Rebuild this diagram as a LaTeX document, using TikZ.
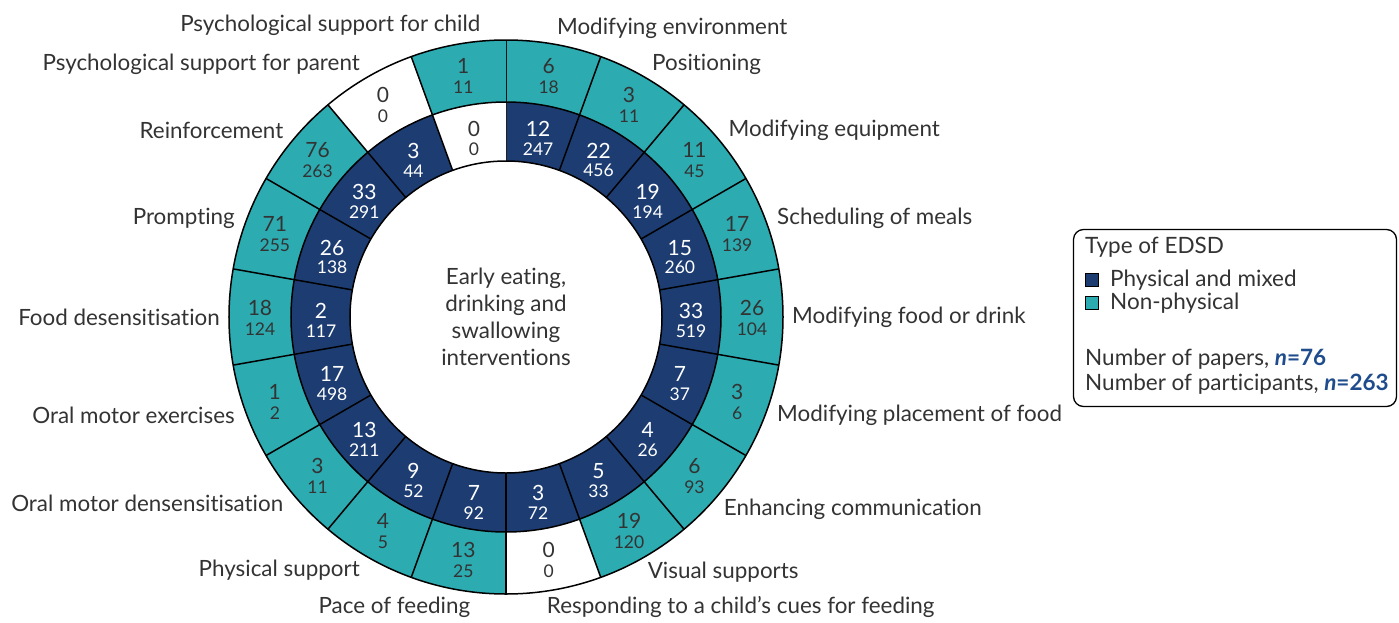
\documentclass[tikz,border=0pt]{standalone}
\usepackage{fontspec}
\setmainfont{Lato}[Ligatures=NoCommon]
\usetikzlibrary{calc}

\definecolor{physblue}{HTML}{1D3D72}
\definecolor{nonteal}{HTML}{2CABB1}
\definecolor{txtgrey}{HTML}{333333}
\definecolor{nblue}{HTML}{1F4C8C}

\tikzset{
  seglabel/.style={font=\fontsize{22.4}{26.8}\selectfont, text=txtgrey, inner sep=0pt},
  bignum/.style={font=\fontsize{21}{24}\selectfont, inner sep=0pt},
  smallnum/.style={font=\fontsize{17.5}{20}\selectfont, inner sep=0pt},
  legtext/.style={font=\fontsize{22.5}{26}\selectfont, text=txtgrey, inner sep=0pt, anchor=west},
  keybox/.style={draw=black, line width=1pt, minimum size=13pt, inner sep=0pt},
  ring/.style={line width=1.5pt, black}
}

\begin{document}
\begin{tikzpicture}[x=1pt,y=1pt]
    \useasboundingbox (-506,-305) rectangle (893,317);
    \def\rin{156}
    \def\rmid{215}
    \def\rout{277}

    \foreach \i/\pin/\nin/\pout/\nout/\la/\lab in {
        0/12/247/6/18/80/Modifying environment,
        1/22/456/3/11/60/Positioning,
        2/19/194/11/45/40/Modifying equipment,
        3/15/260/17/139/20/Scheduling of meals,
        4/33/519/26/104/0/Modifying food or drink,
        5/7/37/3/6/-20/Modifying placement of food,
        6/4/26/6/93/-41.5/Enhancing communication,
        7/5/33/19/120/-61/Visual supports,
        8/3/72/0/0/-82/Responding to a child’s cues for feeding,
        9/7/92/13/25/-97/Pace of feeding,
        10/9/52/4/5/-120/Physical support,
        11/13/211/3/11/-140/Oral motor densensitisation,
        12/17/498/1/2/-160/Oral motor exercises,
        13/2/117/18/124/180/Food desensitisation,
        14/26/138/71/255/160/Prompting,
        15/33/291/76/263/140/Reinforcement,
        16/3/44/0/0/120/Psychological support for parent,
        17/0/0/1/11/95/Psychological support for child} {
        \pgfmathsetmacro{\a}{90-20*\i}
        \pgfmathsetmacro{\b}{70-20*\i}
        \pgfmathsetmacro{\m}{80-20*\i}
        \pgfmathsetmacro{\lr}{286+7*abs(sin(\la))}
        \ifnum\pin=0 \def\incol{white}\def\intxt{txtgrey}\else\def\incol{physblue}\def\intxt{white}\fi
        \ifnum\pout=0 \def\outcol{white}\else\def\outcol{nonteal}\fi
        \ifnum\i<9 \def\anc{west}\else\def\anc{east}\fi

        \fill[\incol] (\a:\rin) arc[start angle=\a, end angle=\b, radius=\rin pt]
            -- (\b:\rmid) arc[start angle=\b, end angle=\a, radius=\rmid pt] -- cycle;
        \fill[\outcol] (\a:\rmid) arc[start angle=\a, end angle=\b, radius=\rmid pt]
            -- (\b:\rout) arc[start angle=\b, end angle=\a, radius=\rout pt] -- cycle;
        \draw[ring] (\a:\rin) -- (\a:\rout);

        \node[bignum, text=\intxt] (pin\i) at ($(\m:185)+(0,6)$) {\pin};
        \node[smallnum, text=\intxt] (nin\i) at ($(\m:185)+(0,-14)$) {\nin};
        \node[bignum, text=txtgrey] (pout\i) at ($(\m:246)+(0,9)$) {\pout};
        \node[smallnum, text=txtgrey] (nout\i) at ($(\m:246)+(0,-12)$) {\nout};

        \node[seglabel, anchor=\anc] (lab\i) at (\la:\lr) {\lab};
    }

    \draw[ring] (0,0) circle[radius=\rin pt];
    \draw[ring] (0,0) circle[radius=\rmid pt];
    \draw[ring] (0,0) circle[radius=\rout pt];

    \node[seglabel, align=center] (centre) at (0,0) {Early eating,\\drinking and\\swallowing\\interventions};

    % legend
    \node[draw=black, line width=1.3pt, rounded corners=10pt, minimum width=323pt,
          minimum height=177pt, inner sep=0pt] (legend) at (729,-1) {};
    \node[legtext] (legtitle) at (579,70) {Type of EDSD};
    \node[keybox, fill=physblue] (keyphys) at (586,37) {};
    \node[legtext] (labphys) at (604,37) {Physical and mixed};
    \node[keybox, fill=nonteal] (keynon) at (586,14) {};
    \node[legtext] (labnon) at (604,14) {Non-physical};
    \node[legtext] (papers) at (579,-42) {Number of papers, \textcolor{nblue}{\textbf{\textit{n}=76}}};
    \node[legtext] (partic) at (579,-67) {Number of participants, \textcolor{nblue}{\textbf{\textit{n}=263}}};
\end{tikzpicture}
\end{document}
